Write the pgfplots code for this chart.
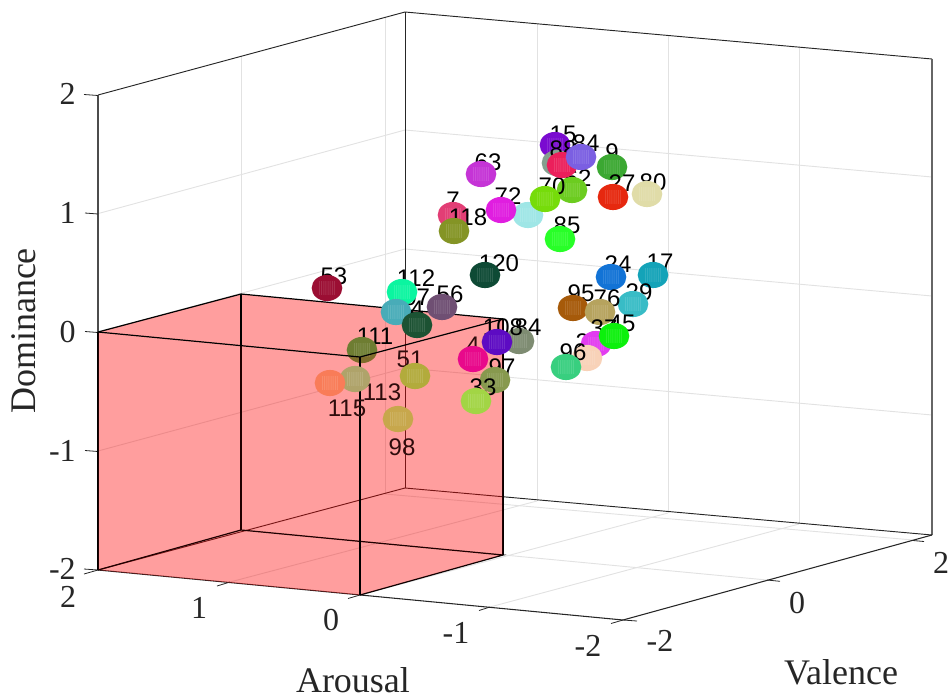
\documentclass[border=0pt]{standalone}
\usepackage{pgfplots}
\pgfplotsset{compat=1.18}
\usepackage{fontspec}
\setmainfont{Liberation Serif}
\newfontfamily\lab{Liberation Sans}
\definecolor{gridc}{HTML}{E2E2E2}
\definecolor{axc}{HTML}{262626}
\definecolor{inlab}{HTML}{2E0C0C}
\definecolor{c53}{HTML}{9B0E33}
\definecolor{c63}{HTML}{C534D6}
\definecolor{c7}{HTML}{E23E75}
\definecolor{c118}{HTML}{849425}
\definecolor{c72}{HTML}{E01EE0}
\definecolor{cpale}{HTML}{9FE6E6}
\definecolor{c70}{HTML}{76DC0A}
\definecolor{c62}{HTML}{6CCC20}
\definecolor{c85}{HTML}{28FF28}
\definecolor{c15}{HTML}{7A0BD0}
\definecolor{cgray}{HTML}{84A08F}
\definecolor{c88}{HTML}{EB1F5B}
\definecolor{c84}{HTML}{7B5FE2}
\definecolor{c9}{HTML}{3BA832}
\definecolor{c27}{HTML}{E6280F}
\definecolor{c80}{HTML}{E0DCA8}
\definecolor{c120}{HTML}{0E4A35}
\definecolor{c24}{HTML}{1273D6}
\definecolor{c17}{HTML}{14A3B8}
\definecolor{c29}{HTML}{38BCC6}
\definecolor{c95}{HTML}{A65A0A}
\definecolor{c76}{HTML}{B6A35E}
\definecolor{c45}{HTML}{0CF00C}
\definecolor{c37}{HTML}{E23CF0}
\definecolor{c21}{HTML}{F8D2B8}
\definecolor{c96}{HTML}{38CF7F}
\definecolor{c84b}{HTML}{7E8C72}
\definecolor{c108}{HTML}{5D0BC3}
\definecolor{c4}{HTML}{E8098B}
\definecolor{c97}{HTML}{87994E}
\definecolor{c33}{HTML}{A2D545}
\definecolor{c112}{HTML}{0BF5A0}
\definecolor{c107}{HTML}{48ACB8}
\definecolor{c56}{HTML}{6F4F73}
\definecolor{c4b}{HTML}{1C5233}
\definecolor{c111}{HTML}{6E7D32}
\definecolor{c115}{HTML}{F97C58}
\definecolor{c113}{HTML}{AFA36A}
\definecolor{c51}{HTML}{B2AB3C}
\definecolor{c98}{HTML}{C7A74C}
\pgfdeclareplotmark{sph}{%
  \pgfpathellipse{\pgfpointorigin}{\pgfqpoint{11.5pt}{0pt}}{\pgfqpoint{0pt}{9.8pt}}%
  \pgfusepathqfill
  \begin{pgfscope}%
    \pgfsetfillopacity{0.36}\pgfsetfillcolor{white}%
    \foreach \i in {-4,...,4}{\foreach \j in {-3,...,3}{%
      \pgfpathrectangle{\pgfpoint{\i*1.4pt-0.3pt}{\j*1.5pt-0.3pt}}{\pgfqpoint{0.6pt}{0.6pt}}%
    }}%
    \pgfusepathqfill
  \end{pgfscope}%
}
\newcommand{\sph}[3]{\addplot[only marks,mark=sph,color=#3] coordinates {(#1,#2)};}
\newcommand{\seg}[3]{\addplot[mark=none,color=#1,line width=#2] coordinates {#3};}
\newcommand{\lb}[3]{\node[font=\lab\fontsize{18}{20}\selectfont,text=black,inner sep=0pt] at (axis cs:#1,#2) {#3};}
\newcommand{\lbi}[3]{\node[font=\lab\fontsize{18}{20}\selectfont,text=inlab,inner sep=0pt] at (axis cs:#1,#2) {#3};}
\newcommand{\tl}[3]{\node[font=\fontsize{24}{26}\selectfont,text=axc,inner sep=0pt] at (axis cs:#1,#2) {#3};}
\begin{document}
\begin{tikzpicture}
\begin{axis}[scale only axis,width=712.5pt,height=522.75pt,xmin=0,xmax=950,ymin=0,ymax=697,y dir=reverse,hide axis,clip=false,clip marker paths=true]
\path[use as bounding box] (axis cs:0,0) rectangle (axis cs:950,697);
% grid: walls
\seg{gridc}{0.7pt}{(98,213.6)(405,130)(932,177)}
\seg{gridc}{0.7pt}{(98,332)(405,249)(932,296)}
\seg{gridc}{0.7pt}{(98,451)(405,368)(932,415)}
\seg{gridc}{0.7pt}{(241,56)(241,530)}
\seg{gridc}{0.7pt}{(385,18)(385,494)}
\seg{gridc}{0.7pt}{(537,24)(537,501)}
\seg{gridc}{0.7pt}{(668,36)(668,513)}
\seg{gridc}{0.7pt}{(799,47)(799,524)}
% grid: floor
\seg{gridc}{0.7pt}{(230,582)(537,501)}
\seg{gridc}{0.7pt}{(360,595)(668,513)}
\seg{gridc}{0.7pt}{(490,607)(799,524)}
\seg{gridc}{0.7pt}{(241,530)(767,580)}
\seg{gridc}{0.7pt}{(385,494)(913,540)}
% frame
\seg{axc}{0.7pt}{(98,95)(405,12)(932,59)}
\seg{axc}{0.65pt}{(405,12)(405,488)}
\seg{black!60}{1.1pt}{(932,59)(932,535)}
\seg{axc}{0.7pt}{(98,570)(405,488)(932,535)}
\seg{axc}{0.8pt}{(98,570)(623,620)(932,535)}
\seg{black!70}{1.3pt}{(98,95)(98,570)}
% ticks
\seg{axc}{0.6pt}{(84,94.5)(98,95.5)}
\seg{axc}{0.6pt}{(85,213)(98,214)}
\seg{axc}{0.6pt}{(85,331.5)(98,332.5)}
\seg{axc}{0.6pt}{(85,450.5)(98,451.5)}
\seg{axc}{0.6pt}{(84,569)(98,570)}
\seg{axc}{0.6pt}{(84,574)(98,570)}
\seg{axc}{0.6pt}{(217,586)(230,582)}
\seg{axc}{0.6pt}{(348,598.5)(360,595)}
\seg{axc}{0.6pt}{(479,610.5)(490,607)}
\seg{axc}{0.6pt}{(611,623.5)(623,620)}
\seg{axc}{0.6pt}{(623,620)(637,621)}
\seg{axc}{0.6pt}{(767,580)(780,581.3)}
\seg{axc}{0.6pt}{(913,540.5)(924,541.5)}
% pink box, first layer
\addplot[fill=red,fill opacity=0.295,draw=none] coordinates {(98,332)(241,294)(503,319)(503,555)(360,595)(98,570)} --cycle;
\addplot[fill=red,fill opacity=0.12,draw=none] coordinates {(98,332)(241,294)(503,319)(360,357)} --cycle;
% box edges behind the spheres
\seg{black}{0.9pt}{(241,294)(503,319)}
\seg{black}{0.9pt}{(503,319)(503,555)}
\seg{black}{0.9pt}{(98,332)(241,294)}
\seg{black}{0.9pt}{(241,294)(241,530)}
\seg{black}{0.9pt}{(98,570)(241,530)(503,555)(360,595)}
\seg{black}{0.9pt}{(98,332)(98,570)}
% spheres and labels, back to front
\lb{334}{276}{53}\sph{327}{288}{c53}
\lb{488}{162}{63}\sph{481}{174}{c63}
\lb{453}{200}{7}\sph{453}{215}{c7}
\lb{468}{217}{118}\sph{454}{231}{c118}
\lb{508}{196}{72}\sph{528}{215}{cpale}\sph{501}{210}{c72}
\lb{578}{178}{62}\sph{572}{190}{c62}
\lb{552}{186}{70}\sph{545}{199}{c70}
\lb{567}{225}{85}\sph{560}{239}{c85}
\lb{563}{134}{15}\sph{555}{145}{c15}\sph{557}{163}{cgray}
\lb{563}{149}{88}\sph{562}{165}{c88}
\lb{586}{143}{84}\sph{581}{157}{c84}
\lb{612}{152}{9}\sph{612}{167}{c9}
\lb{622}{183}{27}\sph{613}{197}{c27}
\lb{653}{182}{80}\sph{647}{194}{c80}
\lb{499}{263}{120}\sph{485}{275}{c120}
\lb{618}{264}{24}\sph{611}{277}{c24}
\lb{660}{262}{17}\sph{653}{275}{c17}
\lb{639}{292}{29}\sph{633}{304}{c29}
\lb{581}{293}{95}\sph{573}{308}{c95}
\lb{607}{298}{76}\sph{600}{312}{c76}
\lb{604}{328}{37}\lb{589}{342}{21}\sph{596}{344}{c37}
\sph{587}{358}{c21}
\lb{573}{352}{96}\sph{566}{367}{c96}
\lb{622}{323}{45}\sph{614}{336}{c45}
\lb{416}{278}{112}\lb{410}{297}{107}
\sph{402}{292}{c112}\sph{396}{312}{c107}
\lb{417}{309}{4}\sph{417}{325}{c4b}
\lb{450}{294}{56}\sph{442}{307}{c56}
\lb{375}{336}{111}\sph{362}{350}{c111}
% front faces of the pink box: tint what lies behind them
\addplot[fill=red,fill opacity=0.12,draw=none] coordinates {(98,332)(360,357)(503,319)(503,555)(360,595)(98,570)} --cycle;
\seg{black}{0.9pt}{(98,332)(360,357)(503,319)}
\seg{black}{0.9pt}{(360,357)(360,595)}
% spheres in front of the box faces
\lb{528}{327}{84}\sph{519}{341}{c84b}
\lb{503}{327}{108}\sph{497}{342}{c108}
\lbi{382}{392}{113}\sph{355}{379}{c113}
\lbi{347}{408}{115}\sph{330}{383}{c115}
\lbi{410}{359}{51}\sph{415}{376}{c51}
\lbi{402}{447}{98}\sph{398}{419}{c98}
\lbi{473}{345}{4}\sph{473}{359}{c4}
\lb{502}{367}{97}\sph{495}{380}{c97}
\lb{483}{387}{33}\sph{476}{401}{c33}
% tick labels
\node[anchor=east,font=\fontsize{24}{26}\selectfont,text=axc,inner sep=0pt] at (axis cs:76,94) {2};
\node[anchor=east,font=\fontsize{24}{26}\selectfont,text=axc,inner sep=0pt] at (axis cs:76,213) {1};
\node[anchor=east,font=\fontsize{24}{26}\selectfont,text=axc,inner sep=0pt] at (axis cs:76,332) {0};
\node[anchor=east,font=\fontsize{24}{26}\selectfont,text=axc,inner sep=0pt] at (axis cs:76,451) {-1};
\node[anchor=east,font=\fontsize{24}{26}\selectfont,text=axc,inner sep=0pt] at (axis cs:76,569) {-2};
\tl{68}{597}{2}\tl{199}{608}{1}\tl{331}{620}{0}\tl{456}{633}{-1}\tl{588}{646}{-2}
\tl{660}{641}{-2}\tl{797}{603}{0}\tl{941}{563}{2}
\node[font=\fontsize{27}{30}\selectfont,text=axc,inner sep=0pt] at (axis cs:353,680) {Arousal};
\node[font=\fontsize{27}{30}\selectfont,text=axc,inner sep=0pt] at (axis cs:841,672) {Valence};
\node[font=\fontsize{27}{30}\selectfont,text=axc,inner sep=0pt,rotate=90] at (axis cs:24,331) {Dominance};
\end{axis}
\end{tikzpicture}
\end{document}
